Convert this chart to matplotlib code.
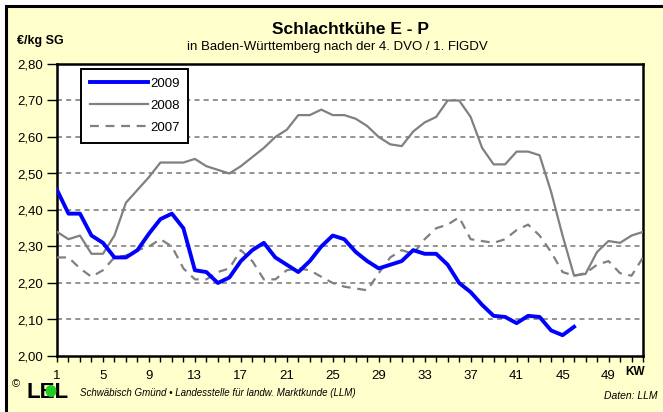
import numpy as np
import matplotlib.pyplot as plt
from matplotlib.patches import Rectangle, Ellipse

plt.rcParams["font.family"] = ["Liberation Sans", "DejaVu Sans"]

# Preise in EUR/kg SG je Kalenderwoche
weeks_2009 = list(range(1, 47))
price_2009 = [2.455, 2.39, 2.39, 2.33, 2.31, 2.27, 2.27, 2.29, 2.335, 2.375,
              2.39, 2.35, 2.235, 2.23, 2.20, 2.215, 2.26, 2.29, 2.31, 2.27,
              2.25, 2.23, 2.26, 2.30, 2.33, 2.32, 2.285, 2.26, 2.24, 2.25,
              2.26, 2.29, 2.28, 2.28, 2.25, 2.20, 2.175, 2.14, 2.11, 2.107,
              2.09, 2.11, 2.107, 2.07, 2.057, 2.08]

weeks_2008 = list(range(1, 53))
price_2008 = [2.34, 2.32, 2.33, 2.28, 2.28, 2.33, 2.42, 2.455, 2.49, 2.53,
              2.53, 2.53, 2.54, 2.52, 2.51, 2.50, 2.52, 2.545, 2.57, 2.60,
              2.62, 2.66, 2.66, 2.675, 2.66, 2.66, 2.65, 2.63, 2.60, 2.58,
              2.575, 2.615, 2.64, 2.655, 2.70, 2.70, 2.655, 2.57, 2.525, 2.525,
              2.56, 2.56, 2.55, 2.45, 2.33, 2.22, 2.225, 2.285, 2.315, 2.31,
              2.33, 2.34]

weeks_2007 = list(range(1, 53))
price_2007 = [2.27, 2.27, 2.24, 2.217, 2.235, 2.27, 2.275, 2.29, 2.30, 2.32,
              2.30, 2.24, 2.21, 2.21, 2.23, 2.24, 2.29, 2.26, 2.21, 2.21,
              2.235, 2.24, 2.235, 2.217, 2.20, 2.19, 2.185, 2.18, 2.227, 2.27,
              2.29, 2.28, 2.32, 2.35, 2.36, 2.38, 2.32, 2.315, 2.31, 2.32,
              2.345, 2.36, 2.33, 2.285, 2.23, 2.22, 2.227, 2.25, 2.26, 2.227,
              2.22, 2.27]

y_ticks = [2.0, 2.1, 2.2, 2.3, 2.4, 2.5, 2.6, 2.7, 2.8]
x_ticks = list(range(1, 50, 4))

W, H = 663, 412
fig = plt.figure(figsize=(W / 100, H / 100), dpi=100)
fig.patch.set_facecolor("white")

# gelber Diagrammbereich mit schwarzem Rand (rechts und unten abgeschnitten)
fig.patches.append(Rectangle((6 / W, -0.1), 1.2, 1.1 - 6 / H, transform=fig.transFigure,
                             facecolor="#FFFFCC", edgecolor="black", lw=2.2, zorder=-5))

ax = fig.add_axes([57 / W, 1 - 356 / H, 586 / W, 292 / H])
ax.set_zorder(2)
ax.set_facecolor("white")

ax.plot(weeks_2007, price_2007, color="#808080", lw=1.6, dashes=(4, 3), label="2007", zorder=3)
ax.plot(weeks_2008, price_2008, color="#808080", lw=1.6, label="2008", zorder=3)
ax.plot(weeks_2009, price_2009, color="#0000FF", lw=2.8, label="2009", zorder=4)

ax.set_xlim(1, 52)
ax.set_ylim(2.0, 2.8)
ax.set_yticks(y_ticks)
ax.set_yticklabels([f"{v:.2f}".replace(".", ",") for v in y_ticks])
ax.set_xticks(x_ticks)
ax.set_xticks(range(1, 53), minor=True)
ax.tick_params(axis="y", length=7, width=1, pad=3, labelsize=9.5)
ax.tick_params(axis="x", which="both", length=4, width=1, pad=6, labelsize=9.5)

for v in y_ticks[1:-1]:
    ax.axhline(v, color="#808080", lw=1.2, dashes=(3, 2.5), zorder=1)

for s in ax.spines.values():
    s.set_color("black")
    s.set_linewidth(1.8)

handles, labels = ax.get_legend_handles_labels()
leg = ax.legend(handles[::-1], labels[::-1], loc="upper left",
                bbox_to_anchor=(24 / 586, 1 - 5 / 292), borderaxespad=0,
                frameon=True, fancybox=False, edgecolor="black", framealpha=1,
                fontsize=9.5, handlelength=4.4, handletextpad=0.2,
                labelspacing=0.75, borderpad=0.65)
leg.get_frame().set_linewidth(1.4)

fig.text(351 / W, 1 - 29 / H, "Schlachtkühe E - P", ha="center", va="center",
         fontsize=12.5, fontweight="bold")
fig.text(337 / W, 1 - 47 / H, "in Baden-Württemberg nach der 4. DVO / 1. FlGDV",
         ha="center", va="center", fontsize=9.5)
fig.text(17 / W, 1 - 41 / H, "€/kg SG", ha="left", va="center", fontsize=9, fontweight="bold")
fig.text(625 / W, 1 - 372 / H, "KW", ha="left", va="center", fontsize=8.5, fontweight="bold")

# Logo und Quelle
fig.text(12 / W, 1 - 384 / H, "©", ha="left", va="center", fontsize=8)
fig.text(27 / W, 1 - 393 / H, "LEL", ha="left", va="center", fontsize=16, fontweight="bold")
fig.patches.append(Ellipse((51 / W, 1 - 391 / H), 11 / W, 12 / H, transform=fig.transFigure,
                           facecolor="#22CC22", edgecolor="none", zorder=5))
fig.text(80 / W, 1 - 393 / H, "Schwäbisch Gmünd • Landesstelle für landw. Marktkunde (LLM)",
         ha="left", va="center", fontsize=7, style="italic")
fig.text(658 / W, 1 - 396 / H, "Daten: LLM", ha="right", va="center", fontsize=7.5,
         style="italic")

fig.savefig("out.png", dpi=100)
